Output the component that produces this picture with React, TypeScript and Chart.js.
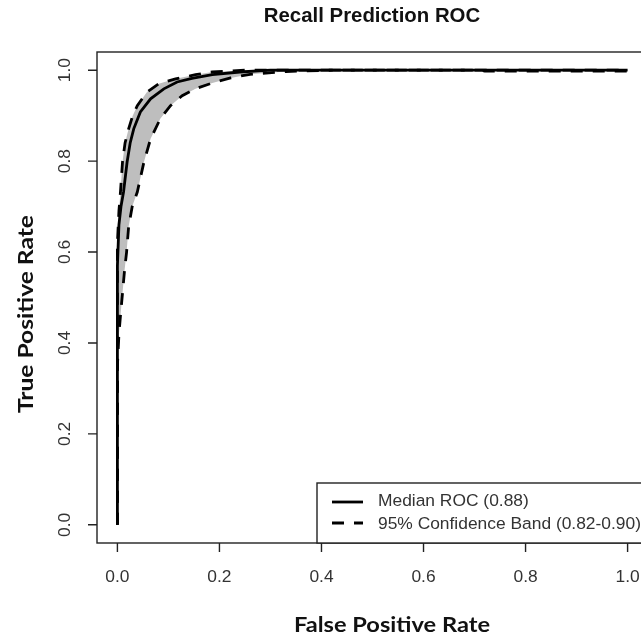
import React, { useEffect, useRef } from "react";
import { Chart, registerables } from "chart.js";

Chart.register(...registerables);

const titleText = "Recall Prediction ROC";
const xTitle = "False Positive Rate";
const yTitle = "True Positive Rate";
const xTicks = [0, 0.2, 0.4, 0.6, 0.8, 1.0];
const yTicks = [0, 0.2, 0.4, 0.6, 0.8, 1.0];
const legendLabels = ["Median ROC (0.88)", "95% Confidence Band (0.82-0.90)"];

const medianFPR = [0, 0, 0.003, 0.007, 0.012, 0.019, 0.025, 0.032, 0.045, 0.065, 0.091, 0.117, 0.146, 0.186, 0.24, 0.3, 1.0];
const medianTPR = [0, 0.57, 0.66, 0.7, 0.732, 0.798, 0.84, 0.871, 0.908, 0.937, 0.959, 0.974, 0.982, 0.99, 0.996, 1.0, 1.0];

const upperFPR = [0, 0, 0.003, 0.006, 0.01, 0.015, 0.022, 0.03, 0.039, 0.058, 0.081, 0.114, 0.153, 0.186, 0.25, 1.0];
const upperTPR = [0, 0.62, 0.69, 0.732, 0.798, 0.84, 0.871, 0.9, 0.922, 0.952, 0.97, 0.981, 0.99, 0.996, 1.0, 1.0];

const lowerFPR = [0, 0, 0.003, 0.006, 0.01, 0.014, 0.018, 0.022, 0.029, 0.039, 0.052, 0.065, 0.084, 0.104, 0.127, 0.153, 0.186, 0.222, 0.26, 0.33, 0.42, 0.71, 0.72, 1.0];
const lowerTPR = [0, 0.35, 0.42, 0.46, 0.51, 0.56, 0.6, 0.656, 0.7, 0.732, 0.798, 0.849, 0.893, 0.922, 0.944, 0.959, 0.972, 0.983, 0.991, 0.997, 1.0, 1.0, 0.998, 0.998];

const toPoints = (xs: number[], ys: number[]) => xs.map((x, i) => ({ x, y: ys[i] }));

const ARIAL = '"Liberation Sans", Arial, sans-serif';
const CAL = 'Lato, "Open Sans", sans-serif';

function fitText(ctx: CanvasRenderingContext2D, text: string, cx: number, cy: number, width: number, rot: number) {
  const w = ctx.measureText(text).width;
  ctx.save();
  ctx.translate(cx, cy);
  ctx.rotate(rot);
  ctx.scale(width / w, 1);
  ctx.fillText(text, 0, 0);
  ctx.restore();
}

const decor = {
  id: "decor",
  beforeDatasetsDraw(chart: any) {
    const { ctx, scales } = chart;
    const xs = scales.x, ys = scales.y;
    const ca = chart.chartArea;
    ctx.save();
    ctx.beginPath();
    ctx.rect(ca.left, ca.top, ca.right - ca.left, ca.bottom - ca.top);
    ctx.clip();
    ctx.beginPath();
    upperFPR.forEach((x, i) => {
      const px = xs.getPixelForValue(x), py = ys.getPixelForValue(upperTPR[i]);
      if (i === 0) ctx.moveTo(px, py); else ctx.lineTo(px, py);
    });
    for (let i = lowerFPR.length - 1; i >= 0; i--) {
      ctx.lineTo(xs.getPixelForValue(lowerFPR[i]), ys.getPixelForValue(lowerTPR[i]));
    }
    ctx.closePath();
    ctx.fillStyle = "#BEBEBE";
    ctx.fill();
    ctx.restore();
  },
  afterDraw(chart: any) {
    const { ctx, scales } = chart;
    const xs = scales.x, ys = scales.y;
    const ca = chart.chartArea;
    ctx.save();
    // box
    ctx.strokeStyle = "#222";
    ctx.lineWidth = 1.4;
    ctx.strokeRect(ca.left, ca.top, ca.right - ca.left, ca.bottom - ca.top);
    // ticks
    ctx.beginPath();
    xTicks.forEach((v) => {
      const px = xs.getPixelForValue(v);
      ctx.moveTo(px, ca.bottom);
      ctx.lineTo(px, ca.bottom + 9);
    });
    yTicks.forEach((v) => {
      const py = ys.getPixelForValue(v);
      ctx.moveTo(ca.left, py);
      ctx.lineTo(ca.left - 9, py);
    });
    ctx.stroke();
    ctx.fillStyle = "#333";
    ctx.font = `17.4px ${ARIAL}`;
    ctx.textAlign = "center";
    ctx.textBaseline = "alphabetic";
    xTicks.forEach((v) => {
      ctx.fillText(v.toFixed(1), xs.getPixelForValue(v), 582);
    });
    yTicks.forEach((v) => {
      ctx.save();
      ctx.translate(70, ys.getPixelForValue(v));
      ctx.rotate(-Math.PI / 2);
      ctx.fillText(v.toFixed(1), 0, 0);
      ctx.restore();
    });
    // title
    ctx.fillStyle = "#111";
    ctx.font = `bold 20.4px ${ARIAL}`;
    ctx.fillText(titleText, 372, 22);
    // axis titles
    ctx.font = `bold 21px ${CAL}`;
    fitText(ctx, xTitle, 392, 632, 196, 0);
    fitText(ctx, yTitle, 33, 314, 198, -Math.PI / 2);
    // legend
    const lr = ca.right, lb = ca.bottom;
    const ll = lr - 331, lt = lb - 60;
    ctx.fillStyle = "#fff";
    ctx.fillRect(ll, lt, lr - ll, lb - lt);
    ctx.strokeStyle = "#222";
    ctx.lineWidth = 1.4;
    ctx.strokeRect(ll, lt, lr - ll, lb - lt);
    ctx.strokeStyle = "#000";
    ctx.lineWidth = 2.8;
    ctx.beginPath();
    ctx.moveTo(ll + 15, lt + 19);
    ctx.lineTo(ll + 46, lt + 19);
    ctx.stroke();
    ctx.setLineDash([12, 10]);
    ctx.beginPath();
    ctx.moveTo(ll + 15, lt + 40);
    ctx.lineTo(ll + 46, lt + 40);
    ctx.stroke();
    ctx.setLineDash([]);
    ctx.fillStyle = "#333";
    ctx.font = `17.4px ${ARIAL}`;
    ctx.textAlign = "left";
    ctx.textBaseline = "middle";
    ctx.fillText(legendLabels[0], ll + 61, lt + 18);
    ctx.fillText(legendLabels[1], ll + 61, lt + 41);
    ctx.restore();
  },
};

export default function App() {
  const ref = useRef<HTMLCanvasElement>(null);
  useEffect(() => {
    if (!ref.current) return;
    const chart = new Chart(ref.current, {
      type: "line",
      data: {
        datasets: [
          {
            label: legendLabels[0],
            data: toPoints(medianFPR, medianTPR),
            borderColor: "#000",
            borderWidth: 2.8,
            pointRadius: 0,
            tension: 0,
            fill: false,
            order: 0,
          },
          {
            label: "upper",
            data: toPoints(upperFPR, upperTPR),
            borderColor: "#000",
            borderWidth: 2.8,
            borderDash: [12, 10],
            pointRadius: 0,
            tension: 0,
            fill: false,
            order: 1,
          },
          {
            label: "lower",
            data: toPoints(lowerFPR, lowerTPR),
            borderColor: "#000",
            borderWidth: 2.8,
            borderDash: [12, 10],
            pointRadius: 0,
            tension: 0,
            fill: false,
            order: 2,
          },
        ],
      },
      options: {
        animation: false,
        responsive: false,
        layout: { padding: { left: 97, right: 12, top: 52, bottom: 93 } },
        plugins: { legend: { display: false }, tooltip: { enabled: false }, title: { display: false } },
        scales: {
          x: { type: "linear", min: -0.04, max: 1.04, display: false },
          y: { type: "linear", min: -0.04, max: 1.04, display: false },
        },
      },
      plugins: [decor],
    });
    return () => chart.destroy();
  }, []);
  return (
    <div style={{ position: "fixed", left: 0, top: 0, width: 641, height: 636, overflow: "hidden", background: "#fff" }}>
      <canvas ref={ref} width={660} height={636} style={{ display: "block" }} />
    </div>
  );
}
